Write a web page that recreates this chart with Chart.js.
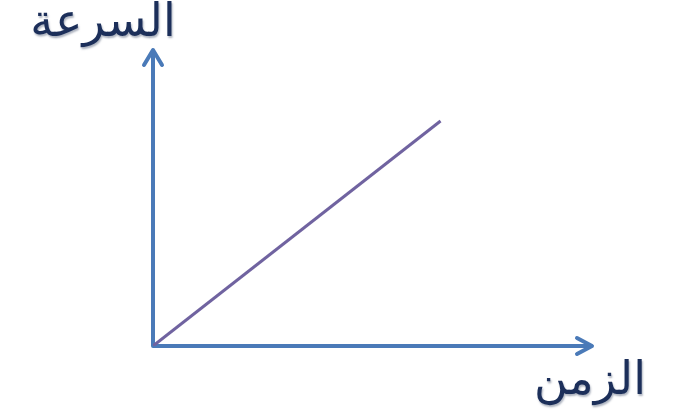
<!DOCTYPE html>
<html>
<head>
<meta charset="utf-8">
<script src="https://cdn.jsdelivr.net/npm/chart.js@4/dist/chart.umd.min.js"></script>
<style>
  html, body { margin: 0; padding: 0; background: #fff; }
  #wrap { width: 676px; height: 412px; }
</style>
</head>
<body>
<div id="wrap"><canvas id="c" width="676" height="412"></canvas></div>
<script>
// data
const time = [0, 6.55];
const speed = [0, 7.6];
const xLabel = 'الزمن';
const yLabel = 'السرعة';
const axisMax = 10;

const axisColor = '#4a7ab8';
const lineColor = '#7063a0';

// draws the two axes with arrow heads and the arabic labels
const axesPlugin = {
  id: 'arrowAxes',
  beforeDatasetsDraw(chart) {
    const ctx = chart.ctx;
    const x = chart.scales.x, y = chart.scales.y;
    const ox = x.getPixelForValue(0), oy = y.getPixelForValue(0);
    const xr = x.getPixelForValue(axisMax), yt = y.getPixelForValue(axisMax);
    ctx.save();
    ctx.strokeStyle = axisColor;
    ctx.lineWidth = 4;
    ctx.lineCap = 'round';
    ctx.lineJoin = 'round';
    ctx.beginPath();
    ctx.moveTo(ox, yt + 2);
    ctx.lineTo(ox, oy);
    ctx.lineTo(xr - 2, oy);
    ctx.stroke();
    // arrow heads
    ctx.beginPath();
    ctx.moveTo(ox - 9, yt + 15);
    ctx.lineTo(ox, yt);
    ctx.lineTo(ox + 9, yt + 15);
    ctx.moveTo(xr - 15, oy - 8);
    ctx.lineTo(xr, oy);
    ctx.lineTo(xr - 15, oy + 8);
    ctx.stroke();
    ctx.restore();
  },
  afterDraw(chart) {
    const ctx = chart.ctx;
    ctx.save();
    ctx.font = '46px "DejaVu Sans"';
    ctx.direction = 'rtl';
    ctx.textBaseline = 'middle';
    ctx.textAlign = 'center';
    ctx.shadowColor = 'rgba(120,130,150,0.6)';
    ctx.shadowBlur = 2;
    ctx.shadowOffsetX = 1;
    ctx.shadowOffsetY = 2;
    ctx.fillStyle = '#1c2f5a';
    ctx.fillText(yLabel, 103, 24);
    ctx.fillText(xLabel, 590, 382);
    ctx.restore();
  }
};

new Chart(document.getElementById('c'), {
  type: 'line',
  data: {
    datasets: [{
      data: time.map((t, i) => ({ x: t, y: speed[i] })),
      borderColor: lineColor,
      borderWidth: 3,
      pointRadius: 0,
      tension: 0
    }]
  },
  options: {
    responsive: false,
    animation: false,
    layout: { padding: { left: 153, right: 84, top: 50, bottom: 66 } },
    plugins: { legend: { display: false }, tooltip: { enabled: false } },
    scales: {
      x: { type: 'linear', min: 0, max: axisMax, display: false },
      y: { type: 'linear', min: 0, max: axisMax, display: false }
    }
  },
  plugins: [axesPlugin]
});
</script>
</body>
</html>
